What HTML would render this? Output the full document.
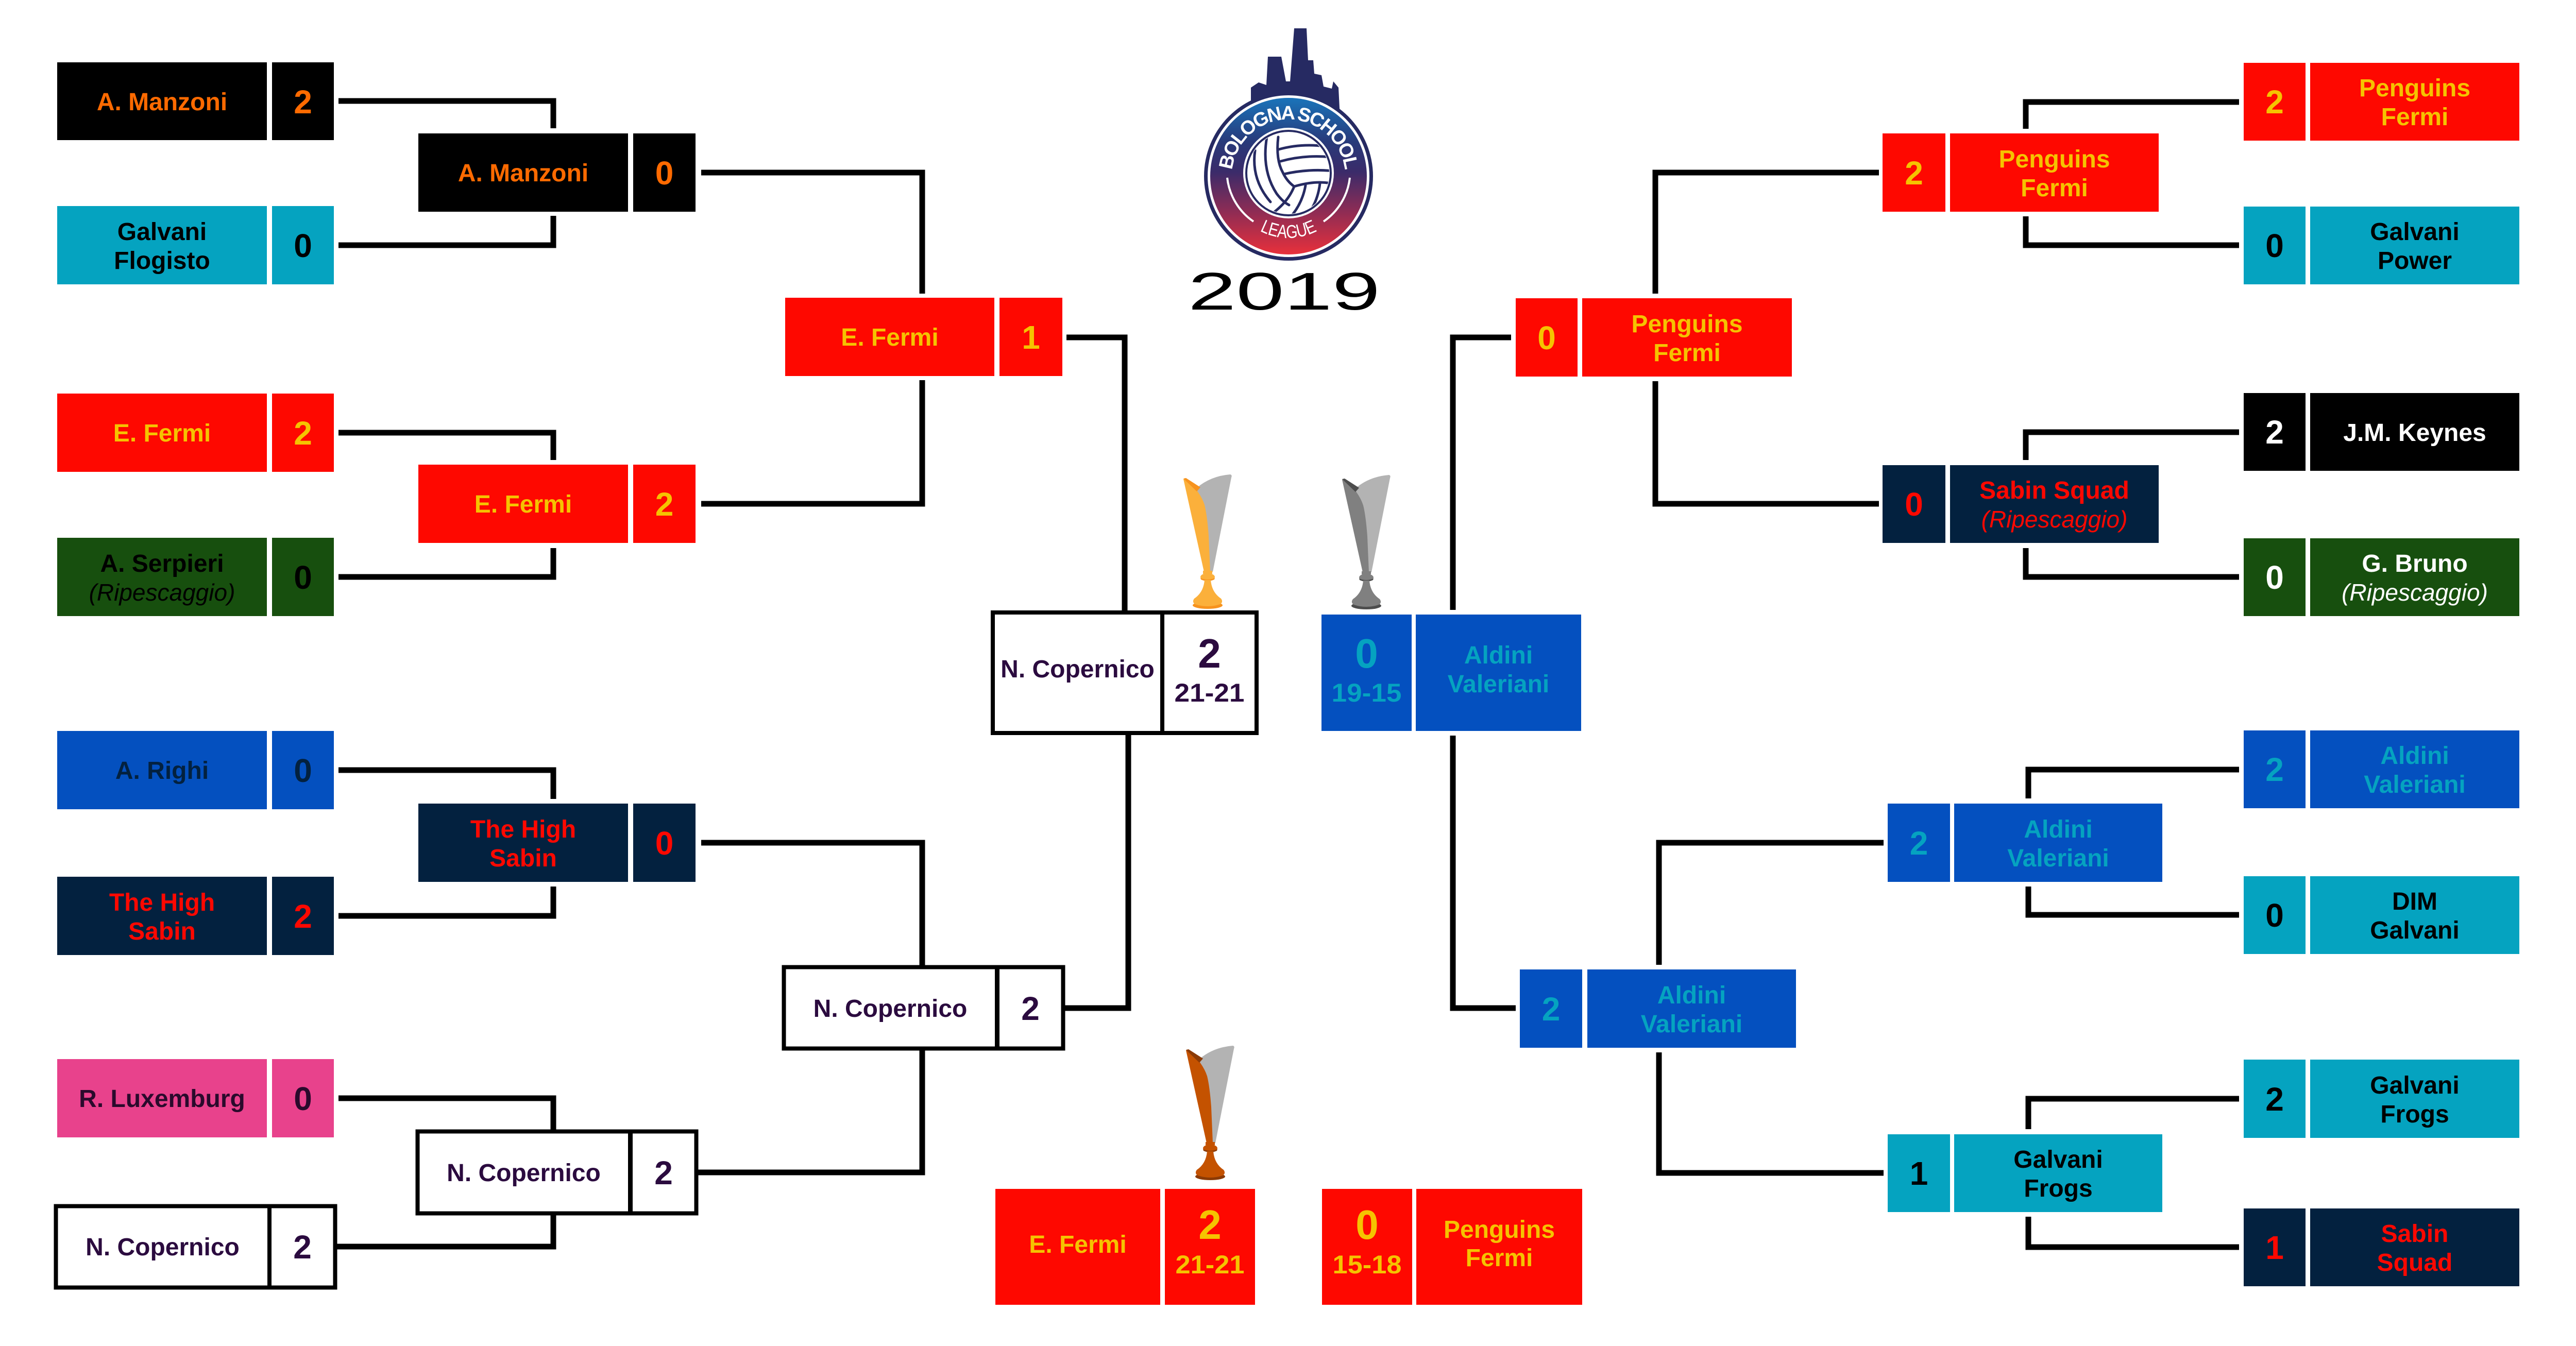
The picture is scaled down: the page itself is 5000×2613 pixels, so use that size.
<!DOCTYPE html>
<html>
<head>
<meta charset="utf-8">
<style>
html,body{margin:0;padding:0;background:#fff;}
svg{display:block;}
.n{font-family:"Liberation Sans",sans-serif;font-weight:bold;font-size:48px;text-anchor:middle;}
.i{font-family:"Liberation Sans",sans-serif;font-style:italic;font-weight:normal;font-size:46px;text-anchor:middle;}
.s{font-family:"Liberation Sans",sans-serif;font-weight:bold;font-size:64px;text-anchor:middle;}
.b{font-family:"Liberation Sans",sans-serif;font-weight:bold;font-size:80px;text-anchor:middle;}
.r{font-family:"Liberation Sans",sans-serif;font-weight:bold;font-size:50px;text-anchor:middle;}
.c{fill:none;stroke:#000;stroke-width:11;stroke-linejoin:miter;stroke-linecap:butt;}
</style>
</head>
<body>
<svg xmlns="http://www.w3.org/2000/svg" width="5000" height="2613" viewBox="0 0 5000 2613">
<defs>
<linearGradient id="lg" x1="0" y1="190" x2="0" y2="494" gradientUnits="userSpaceOnUse">
<stop offset="0" stop-color="#1a74ba"/>
<stop offset="0.28" stop-color="#283a7a"/>
<stop offset="0.47" stop-color="#3a2b6a"/>
<stop offset="0.72" stop-color="#8c2c55"/>
<stop offset="1" stop-color="#e8303b"/>
</linearGradient>
<clipPath id="ballclip"><circle cx="2501" cy="336" r="79"/></clipPath>
<path id="arcTop" d="M 2391 342 A 110 110 0 0 1 2611 342"/>
<path id="arcBot" d="M 2381 342 A 120 120 0 0 0 2621 342"/>
</defs>

<!-- ============ CONNECTORS ============ -->
<polyline class="c" points="657,196 1074,196 1074,249"/>
<polyline class="c" points="657,476 1074,476 1074,419"/>
<polyline class="c" points="657,840 1074,840 1074,893"/>
<polyline class="c" points="657,1120 1074,1120 1074,1064"/>
<polyline class="c" points="657,1495 1074,1495 1074,1551"/>
<polyline class="c" points="657,1778 1074,1778 1074,1721"/>
<polyline class="c" points="657,2132 1074,2132 1074,2193"/>
<polyline class="c" points="654,2420 1074,2420 1074,2359"/>
<polyline class="c" points="1361,335 1790,335 1790,570"/>
<polyline class="c" points="1361,978 1790,978 1790,738"/>
<polyline class="c" points="1361,1636 1790,1636 1790,1874"/>
<polyline class="c" points="1355,2276 1790,2276 1790,2039"/>
<polyline class="c" points="2070,655 2183,655 2183,1185"/>
<polyline class="c" points="2067,1957 2190,1957 2190,1424"/>
<polyline class="c" points="4346,198 3932,198 3932,250"/>
<polyline class="c" points="4346,476 3932,476 3932,420"/>
<polyline class="c" points="4346,839 3932,839 3932,893"/>
<polyline class="c" points="4346,1120 3932,1120 3932,1064"/>
<polyline class="c" points="4346,1494 3937,1494 3937,1550"/>
<polyline class="c" points="4346,1776 3937,1776 3937,1721"/>
<polyline class="c" points="4346,2133 3937,2133 3937,2192"/>
<polyline class="c" points="4346,2421 3937,2421 3937,2362"/>
<polyline class="c" points="3647,335 3213,335 3213,570"/>
<polyline class="c" points="3647,978 3213,978 3213,740"/>
<polyline class="c" points="3656,1636 3220,1636 3220,1873"/>
<polyline class="c" points="3656,2277 3220,2277 3220,2043"/>
<polyline class="c" points="2933,655 2820,655 2820,1184"/>
<polyline class="c" points="2942,1957 2820,1957 2820,1428"/>

<!-- ============ LEFT ROUND 1 ============ -->
<rect x="111" y="121" width="407" height="151" fill="#000"/>
<rect x="528" y="121" width="120" height="151" fill="#000"/>
<text class="n" x="314.5" y="214" fill="#ff6a00">A. Manzoni</text>
<text class="s" x="588" y="220" fill="#ff6a00">2</text>

<rect x="111" y="400" width="407" height="152" fill="#05a3c0"/>
<rect x="528" y="400" width="120" height="152" fill="#05a3c0"/>
<text class="n" x="314.5" y="466" fill="#000">Galvani</text>
<text class="n" x="314.5" y="522" fill="#000">Flogisto</text>
<text class="s" x="588" y="499" fill="#000">0</text>

<rect x="111" y="764" width="407" height="152" fill="#fe0800"/>
<rect x="528" y="764" width="120" height="152" fill="#fe0800"/>
<text class="n" x="314.5" y="857" fill="#f5c300">E. Fermi</text>
<text class="s" x="588" y="863" fill="#f5c300">2</text>

<rect x="111" y="1044" width="407" height="152" fill="#174f0e"/>
<rect x="528" y="1044" width="120" height="152" fill="#174f0e"/>
<text class="n" x="314.5" y="1110" fill="#000">A. Serpieri</text>
<text class="i" x="314.5" y="1166" fill="#000">(Ripescaggio)</text>
<text class="s" x="588" y="1143" fill="#000">0</text>

<rect x="111" y="1419" width="407" height="152" fill="#0450bf"/>
<rect x="528" y="1419" width="120" height="152" fill="#0450bf"/>
<text class="n" x="314.5" y="1512" fill="#03213f">A. Righi</text>
<text class="s" x="588" y="1518" fill="#03213f">0</text>

<rect x="111" y="1702" width="407" height="152" fill="#03213f"/>
<rect x="528" y="1702" width="120" height="152" fill="#03213f"/>
<text class="n" x="314.5" y="1768" fill="#fe0800">The High</text>
<text class="n" x="314.5" y="1824" fill="#fe0800">Sabin</text>
<text class="s" x="588" y="1801" fill="#fe0800">2</text>

<rect x="111" y="2056" width="407" height="152" fill="#e8428c"/>
<rect x="528" y="2056" width="120" height="152" fill="#e8428c"/>
<text class="n" x="314.5" y="2149" fill="#2a0a2c">R. Luxemburg</text>
<text class="s" x="588" y="2155" fill="#2a0a2c">0</text>

<rect x="108.5" y="2341.5" width="542" height="158" fill="#fff" stroke="#000" stroke-width="8"/>
<rect x="519" y="2341" width="8" height="158" fill="#000"/>
<text class="n" x="315.5" y="2437" fill="#2b0b3f">N. Copernico</text>
<text class="s" x="587" y="2443" fill="#2b0b3f">2</text>

<!-- ============ LEFT ROUND 2 ============ -->
<rect x="812" y="259" width="407" height="152" fill="#000"/>
<rect x="1229" y="259" width="121" height="152" fill="#000"/>
<text class="n" x="1015.5" y="352" fill="#ff6a00">A. Manzoni</text>
<text class="s" x="1289.5" y="358" fill="#ff6a00">0</text>

<rect x="812" y="902" width="407" height="152" fill="#fe0800"/>
<rect x="1229" y="902" width="121" height="152" fill="#fe0800"/>
<text class="n" x="1015.5" y="995" fill="#f5c300">E. Fermi</text>
<text class="s" x="1289.5" y="1001" fill="#f5c300">2</text>

<rect x="812" y="1560" width="407" height="152" fill="#03213f"/>
<rect x="1229" y="1560" width="121" height="152" fill="#03213f"/>
<text class="n" x="1015.5" y="1626" fill="#fe0800">The High</text>
<text class="n" x="1015.5" y="1682" fill="#fe0800">Sabin</text>
<text class="s" x="1289.5" y="1659" fill="#fe0800">0</text>

<rect x="810.5" y="2196.5" width="541" height="159" fill="#fff" stroke="#000" stroke-width="8"/>
<rect x="1219" y="2196" width="9" height="159" fill="#000"/>
<text class="n" x="1016.5" y="2293" fill="#2b0b3f">N. Copernico</text>
<text class="s" x="1288" y="2299" fill="#2b0b3f">2</text>

<!-- ============ LEFT SEMI ============ -->
<rect x="1524" y="578" width="406" height="152" fill="#fe0800"/>
<rect x="1940" y="578" width="122" height="152" fill="#fe0800"/>
<text class="n" x="1727" y="671" fill="#f5c300">E. Fermi</text>
<text class="s" x="2001" y="677" fill="#f5c300">1</text>

<rect x="1521.5" y="1877.5" width="542" height="158" fill="#fff" stroke="#000" stroke-width="8"/>
<rect x="1931" y="1877" width="9" height="158" fill="#000"/>
<text class="n" x="1728" y="1974" fill="#2b0b3f">N. Copernico</text>
<text class="s" x="2000" y="1980" fill="#2b0b3f">2</text>

<!-- ============ FINAL ============ -->
<rect x="1927" y="1189" width="512" height="234" fill="#fff" stroke="#000" stroke-width="8"/>
<rect x="2252" y="1189" width="8" height="234" fill="#000"/>
<text class="n" x="2091.5" y="1315" fill="#2b0b3f">N. Copernico</text>
<text class="b" x="2347.5" y="1296" fill="#2b0b3f">2</text>
<text class="r" x="2347.5" y="1362" fill="#2b0b3f" textLength="136" lengthAdjust="spacingAndGlyphs">21-21</text>

<rect x="2565" y="1193" width="175" height="226" fill="#0450bf"/>
<rect x="2748" y="1193" width="321" height="226" fill="#0450bf"/>
<text class="b" x="2652.5" y="1296" fill="#05a3c0">0</text>
<text class="r" x="2652.5" y="1362" fill="#05a3c0" textLength="136" lengthAdjust="spacingAndGlyphs">19-15</text>
<text class="n" x="2908.5" y="1288" fill="#05a3c0">Aldini</text>
<text class="n" x="2908.5" y="1344" fill="#05a3c0">Valeriani</text>

<!-- ============ THIRD PLACE ============ -->
<rect x="1932" y="2308" width="320" height="225" fill="#fe0800"/>
<rect x="2261" y="2308" width="175" height="225" fill="#fe0800"/>
<text class="n" x="2092" y="2432" fill="#f5c300">E. Fermi</text>
<text class="b" x="2348.5" y="2405" fill="#f5c300">2</text>
<text class="r" x="2348.5" y="2472" fill="#f5c300" textLength="134" lengthAdjust="spacingAndGlyphs">21-21</text>

<rect x="2566" y="2308" width="175" height="225" fill="#fe0800"/>
<rect x="2749" y="2308" width="322" height="225" fill="#fe0800"/>
<text class="b" x="2653.5" y="2405" fill="#f5c300">0</text>
<text class="r" x="2653.5" y="2472" fill="#f5c300" textLength="134" lengthAdjust="spacingAndGlyphs">15-18</text>
<text class="n" x="2910" y="2403" fill="#f5c300">Penguins</text>
<text class="n" x="2910" y="2458" fill="#f5c300">Fermi</text>

<!-- ============ RIGHT SEMI ============ -->
<rect x="2942" y="579" width="120" height="152" fill="#fe0800"/>
<rect x="3071" y="579" width="407" height="152" fill="#fe0800"/>
<text class="s" x="3002" y="678" fill="#f5c300">0</text>
<text class="n" x="3274.5" y="645" fill="#f5c300">Penguins</text>
<text class="n" x="3274.5" y="701" fill="#f5c300">Fermi</text>

<rect x="2950" y="1882" width="121" height="152" fill="#0450bf"/>
<rect x="3081" y="1882" width="405" height="152" fill="#0450bf"/>
<text class="s" x="3010.5" y="1981" fill="#05a3c0">2</text>
<text class="n" x="3283.5" y="1948" fill="#05a3c0">Aldini</text>
<text class="n" x="3283.5" y="2004" fill="#05a3c0">Valeriani</text>

<!-- ============ RIGHT ROUND 2 ============ -->
<rect x="3654" y="259" width="122" height="152" fill="#fe0800"/>
<rect x="3785" y="259" width="405" height="152" fill="#fe0800"/>
<text class="s" x="3715" y="358" fill="#f5c300">2</text>
<text class="n" x="3987.5" y="325" fill="#f5c300">Penguins</text>
<text class="n" x="3987.5" y="381" fill="#f5c300">Fermi</text>

<rect x="3654" y="903" width="122" height="151" fill="#03213f"/>
<rect x="3785" y="903" width="405" height="151" fill="#03213f"/>
<text class="s" x="3715" y="1001" fill="#fe0800">0</text>
<text class="n" x="3987.5" y="968" fill="#fe0800">Sabin Squad</text>
<text class="i" x="3987.5" y="1024" fill="#fe0800">(Ripescaggio)</text>

<rect x="3664" y="1560" width="121" height="152" fill="#0450bf"/>
<rect x="3793" y="1560" width="404" height="152" fill="#0450bf"/>
<text class="s" x="3724.5" y="1659" fill="#05a3c0">2</text>
<text class="n" x="3995" y="1626" fill="#05a3c0">Aldini</text>
<text class="n" x="3995" y="1682" fill="#05a3c0">Valeriani</text>

<rect x="3664" y="2202" width="121" height="151" fill="#05a3c0"/>
<rect x="3793" y="2202" width="404" height="151" fill="#05a3c0"/>
<text class="s" x="3724.5" y="2300" fill="#000">1</text>
<text class="n" x="3995" y="2267" fill="#000">Galvani</text>
<text class="n" x="3995" y="2323" fill="#000">Frogs</text>

<!-- ============ RIGHT ROUND 1 ============ -->
<rect x="4355" y="122" width="120" height="151" fill="#fe0800"/>
<rect x="4484" y="122" width="406" height="151" fill="#fe0800"/>
<text class="s" x="4415" y="220" fill="#f5c300">2</text>
<text class="n" x="4687" y="187" fill="#f5c300">Penguins</text>
<text class="n" x="4687" y="243" fill="#f5c300">Fermi</text>

<rect x="4355" y="401" width="120" height="151" fill="#05a3c0"/>
<rect x="4484" y="401" width="406" height="151" fill="#05a3c0"/>
<text class="s" x="4415" y="499" fill="#000">0</text>
<text class="n" x="4687" y="466" fill="#000">Galvani</text>
<text class="n" x="4687" y="522" fill="#000">Power</text>

<rect x="4355" y="763" width="120" height="151" fill="#000"/>
<rect x="4484" y="763" width="406" height="151" fill="#000"/>
<text class="s" x="4415" y="861" fill="#fff">2</text>
<text class="n" x="4687" y="856" fill="#fff">J.M. Keynes</text>

<rect x="4355" y="1045" width="120" height="151" fill="#174f0e"/>
<rect x="4484" y="1045" width="406" height="151" fill="#174f0e"/>
<text class="s" x="4415" y="1143" fill="#fff">0</text>
<text class="n" x="4687" y="1110" fill="#fff">G. Bruno</text>
<text class="i" x="4687" y="1166" fill="#fff">(Ripescaggio)</text>

<rect x="4355" y="1418" width="120" height="151" fill="#0450bf"/>
<rect x="4484" y="1418" width="406" height="151" fill="#0450bf"/>
<text class="s" x="4415" y="1516" fill="#05a3c0">2</text>
<text class="n" x="4687" y="1483" fill="#05a3c0">Aldini</text>
<text class="n" x="4687" y="1539" fill="#05a3c0">Valeriani</text>

<rect x="4355" y="1701" width="120" height="151" fill="#05a3c0"/>
<rect x="4484" y="1701" width="406" height="151" fill="#05a3c0"/>
<text class="s" x="4415" y="1799" fill="#000">0</text>
<text class="n" x="4687" y="1766" fill="#000">DIM</text>
<text class="n" x="4687" y="1822" fill="#000">Galvani</text>

<rect x="4355" y="2057" width="120" height="152" fill="#05a3c0"/>
<rect x="4484" y="2057" width="406" height="152" fill="#05a3c0"/>
<text class="s" x="4415" y="2156" fill="#000">2</text>
<text class="n" x="4687" y="2123" fill="#000">Galvani</text>
<text class="n" x="4687" y="2179" fill="#000">Frogs</text>

<rect x="4355" y="2346" width="120" height="151" fill="#03213f"/>
<rect x="4484" y="2346" width="406" height="151" fill="#03213f"/>
<text class="s" x="4415" y="2444" fill="#fe0800">1</text>
<text class="n" x="4687" y="2411" fill="#fe0800">Sabin</text>
<text class="n" x="4687" y="2467" fill="#fe0800">Squad</text>

<!-- ============ LOGO ============ -->
<polygon points="2428,230 2428,170 2443,160 2458,165 2461,110 2487,110 2496,158 2504,158 2512,55 2536,55 2539,117 2549,117 2551,143 2565,146 2569,168 2585,172 2588,158 2598,170 2601,230" fill="#262a62"/>
<circle cx="2501" cy="342" r="164" fill="#262a62"/>
<circle cx="2501" cy="342" r="157" fill="#fff"/>
<circle cx="2501" cy="342" r="152" fill="url(#lg)"/>
<path d="M 2382 345 A 119 119 0 0 0 2433 430" fill="none" stroke="#fff" stroke-width="4"/>
<path d="M 2569 430 A 119 119 0 0 0 2620 345" fill="none" stroke="#fff" stroke-width="4"/>
<text font-family="'Liberation Sans',sans-serif" font-weight="bold" font-size="38" fill="#fff" text-anchor="middle"><textPath href="#arcTop" startOffset="50%" textLength="322" lengthAdjust="spacing">BOLOGNA SCHOOL</textPath></text>
<text font-family="'Liberation Sans',sans-serif" font-weight="normal" font-size="36" fill="#fff" text-anchor="middle"><textPath href="#arcBot" startOffset="50%" textLength="116" lengthAdjust="spacingAndGlyphs">LEAGUE</textPath></text>
<circle cx="2501" cy="336" r="88" fill="#fff"/>
<circle cx="2501" cy="336" r="82" fill="#fff" stroke="#262a62" stroke-width="4"/>
<g clip-path="url(#ballclip)" fill="none" stroke="#262a62" stroke-width="5" stroke-linecap="round">
<path d="M 2481 266 Q 2476 310 2490 335 Q 2498 352 2512 362"/>
<path d="M 2482 290 Q 2525 278 2572 284"/>
<path d="M 2486 313 Q 2532 300 2584 305"/>
<path d="M 2492 338 Q 2540 327 2588 332"/>
<path d="M 2512 362 Q 2552 350 2584 356"/>
<path d="M 2459 266 Q 2448 330 2478 376 Q 2490 392 2502 398"/>
<path d="M 2436 292 Q 2428 348 2466 392"/>
<path d="M 2512 362 Q 2500 392 2470 414"/>
<path d="M 2534 360 Q 2528 394 2506 420"/>
<path d="M 2562 356 Q 2558 390 2540 414"/>
</g>
<text x="2306" y="601" font-family="'Liberation Sans',sans-serif" font-size="103" fill="#000" textLength="373" lengthAdjust="spacingAndGlyphs">2019</text>

<!-- ============ TROPHIES ============ -->
<!-- gold -->
<g transform="translate(2280,900)">
<path d="M 43 47 Q 70 24 108 21 Q 112 22 110 27 L 74 210 L 64 210 Z" fill="#b3b3b3"/>
<path d="M 17 30 L 22 29 Q 50 55 58 80 Q 63 100 66 140 L 69 210 L 57 210 Z" fill="#fbb03b"/>
<path d="M 17 29 L 22 28 L 50 46 L 43 54 Z" fill="#f7931e"/>
<rect x="55" y="208" width="18" height="6" fill="#fbb03b"/>
<ellipse cx="64" cy="220" rx="14" ry="7" fill="#fbb03b"/>
<path d="M 50 222 Q 64 228 78 222 L 77 225 Q 64 231 51 225 Z" fill="#f7931e"/>
<ellipse cx="64" cy="275" rx="29" ry="7" fill="#f7931e"/>
<path d="M 58 226 L 70 226 Q 72 250 90 262 Q 95 269 88 273 Q 64 281 40 273 Q 33 269 38 262 Q 56 250 58 226 Z" fill="#fbb03b"/>
</g>
<!-- silver -->
<g transform="translate(2588,901)">
<path d="M 43 47 Q 70 24 108 21 Q 112 22 110 27 L 74 210 L 64 210 Z" fill="#b3b3b3"/>
<path d="M 17 30 L 22 29 Q 50 55 58 80 Q 63 100 66 140 L 69 210 L 57 210 Z" fill="#808080"/>
<path d="M 17 29 L 22 28 L 50 46 L 43 54 Z" fill="#4d4d4d"/>
<rect x="55" y="208" width="18" height="6" fill="#808080"/>
<ellipse cx="64" cy="220" rx="14" ry="7" fill="#808080"/>
<path d="M 50 222 Q 64 228 78 222 L 77 225 Q 64 231 51 225 Z" fill="#4d4d4d"/>
<ellipse cx="64" cy="275" rx="29" ry="7" fill="#4d4d4d"/>
<path d="M 58 226 L 70 226 Q 72 250 90 262 Q 95 269 88 273 Q 64 281 40 273 Q 33 269 38 262 Q 56 250 58 226 Z" fill="#808080"/>
</g>
<!-- bronze -->
<g transform="translate(2285,2009)">
<path d="M 43 47 Q 70 24 108 21 Q 112 22 110 27 L 74 210 L 64 210 Z" fill="#b3b3b3"/>
<path d="M 17 30 L 22 29 Q 50 55 58 80 Q 63 100 66 140 L 69 210 L 57 210 Z" fill="#c45200"/>
<path d="M 17 29 L 22 28 L 50 46 L 43 54 Z" fill="#8b3a05"/>
<rect x="55" y="208" width="18" height="6" fill="#c45200"/>
<ellipse cx="64" cy="220" rx="14" ry="7" fill="#c45200"/>
<path d="M 50 222 Q 64 228 78 222 L 77 225 Q 64 231 51 225 Z" fill="#8b3a05"/>
<ellipse cx="64" cy="275" rx="29" ry="7" fill="#8b3a05"/>
<path d="M 58 226 L 70 226 Q 72 250 90 262 Q 95 269 88 273 Q 64 281 40 273 Q 33 269 38 262 Q 56 250 58 226 Z" fill="#c45200"/>
</g>
</svg>
</body>
</html>
